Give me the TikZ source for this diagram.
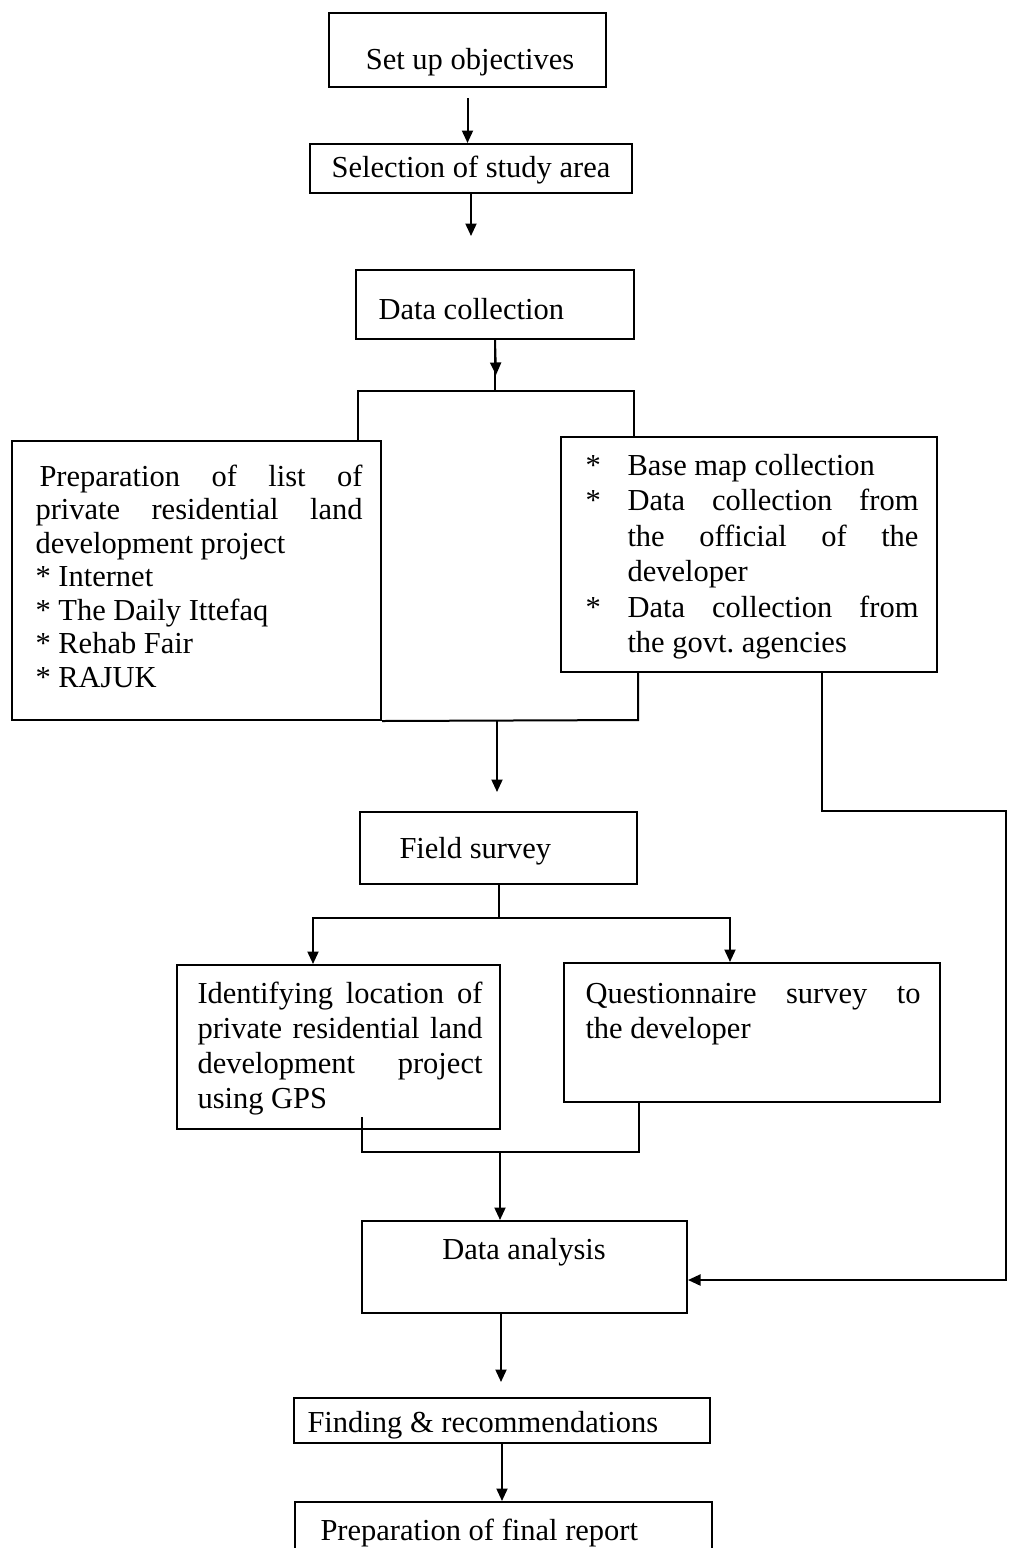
\documentclass[tikz,border=0pt]{standalone}
\usepackage{fontspec}
\setmainfont{Liberation Serif}
\usetikzlibrary{arrows.meta,fit}
\hyphenpenalty=10000
\exhyphenpenalty=10000
\tolerance=10000
\begin{document}
\begin{tikzpicture}[x=0.4pt,y=-0.4pt,
  box/.style={draw, line width=0.8pt, inner sep=0pt},
  txt/.style={inner sep=0pt, font=\fontsize{12.2pt}{14pt}\selectfont},
  ptxt/.style={txt, align=justify, anchor=base west},
  ln/.style={line width=0.8pt},
  arr/.style={ln, -{Triangle[length=5pt,width=4.4pt]}}]
\clip (0,0) rectangle (1008,1548);
\fill[white] (0,0) rectangle (1008,1548);

% boxes
\node[box, fit={(329,13) (606,87)}] (b1) {};
\node[box, fit={(310,144) (632,193)}] (b2) {};
\node[box, fit={(356,270) (634,339)}] (b3) {};
\node[box, fit={(12,441) (381,720)}] (lbox) {};
\node[box, fit={(561,437) (937,672)}] (rbox) {};
\node[box, fit={(360,812) (637,884)}] (fs) {};
\node[box, fit={(177,965) (500,1129)}] (lf) {};
\node[box, fit={(564,963) (940,1102)}] (qs) {};
\node[box, fit={(362,1221) (687,1313)}] (da) {};
\node[box, fit={(294,1398) (710,1443)}] (fr) {};
\node[box, fit={(295,1502) (712,1600)}] (fp) {};

% texts
\node[txt, anchor=base] (t1) at (470,69) {Set up objectives};
\node[txt, anchor=base] (t2) at (471,177) {Selection of study area};
\node[txt, anchor=base west] (t3) at (378,319) {Data collection};
\node[ptxt, text width=130.8pt, font=\fontsize{12.2pt}{13.4pt}\selectfont] (t4) at (35,486) {%
\hspace*{1.6pt}Preparation of list of\linebreak private residential land\linebreak development project\par
* Internet\par
* The Daily Ittefaq\par
* Rehab Fair\par
* RAJUK\par};
\node[ptxt, text width=133.2pt, font=\fontsize{12.2pt}{14.2pt}\selectfont] (t5) at (585,475) {%
\hangindent=16.8pt\hangafter=1\makebox[16.8pt][l]{*}Base map collection\par
\hangindent=16.8pt\hangafter=1\makebox[16.8pt][l]{*}Data collection from\linebreak the official of the\linebreak developer\par
\hangindent=16.8pt\hangafter=1\makebox[16.8pt][l]{*}Data collection from\linebreak the govt.\ agencies\par};
\node[txt, anchor=base west] (t6) at (399,858) {Field survey};
\node[ptxt, text width=114pt] (t7) at (197,1003) {Identifying location of\linebreak private residential land\linebreak development project\linebreak using GPS\par};
\node[ptxt, text width=134pt] (t8) at (585,1003) {Questionnaire survey to\linebreak the developer\par};
\node[txt, anchor=base] (t9) at (524,1259) {Data analysis};
\node[txt, anchor=base west] (t10) at (307,1432) {Finding \& recommendations};
\node[txt, anchor=base west] (t11) at (320,1540) {Preparation of final report};

% junction coordinates
\coordinate (a3) at (496,375);
\coordinate (j1) at (496,391);
\coordinate (j1L) at (358,391);
\coordinate (j1R) at (634,391);
\coordinate (j2R) at (638,720);
\coordinate (j2M) at (497,720);
\coordinate (r1) at (822,811);
\coordinate (r2) at (1006,811);
\coordinate (r3) at (1006,1280);
\coordinate (fL) at (313,918);
\coordinate (fR) at (730,918);
\coordinate (m1) at (362,1117);
\coordinate (mL) at (362,1152);
\coordinate (mR) at (639,1152);
\coordinate (mM) at (500,1152);
\coordinate (d1) at (501,1313);

% connectors
\draw[arr, shorten <=4pt] (b1.south) -- (b1.south |- b2.north);
\draw[arr, shorten >=13.2pt] (b2.south) -- (b2.south |- b3.north);
\draw[ln] (b3.south) -- (b3.south |- j1);
\draw[arr] (b3.south) -- (a3);
\draw[ln] (lbox.north -| j1L) -- (j1L) -- (j1R) -- (rbox.north -| j1R);
\draw[ln] (rbox.south -| j2R) -- (j2R) -- (lbox.south east);
\draw[arr, shorten >=7.6pt] (j2M) -- (j2M |- fs.north);
\draw[arr] (rbox.south -| r1) -- (r1) -- (r2) -- (r3) -- (da.east |- r3);
\draw[arr] (fs.south) |- (fL) -- (lf.north -| fL);
\draw[arr] (fs.south) |- (fR) -- (qs.north -| fR);
\draw[ln] (m1) -- (mL) -- (mR) -- (qs.south -| mR);
\draw[arr] (mM) -- (mM |- da.north);
\draw[arr, shorten >=6pt] (d1) -- (d1 |- fr.north);
\draw[arr] (fr.south) -- (fr.south |- fp.north);
\end{tikzpicture}
\end{document}
